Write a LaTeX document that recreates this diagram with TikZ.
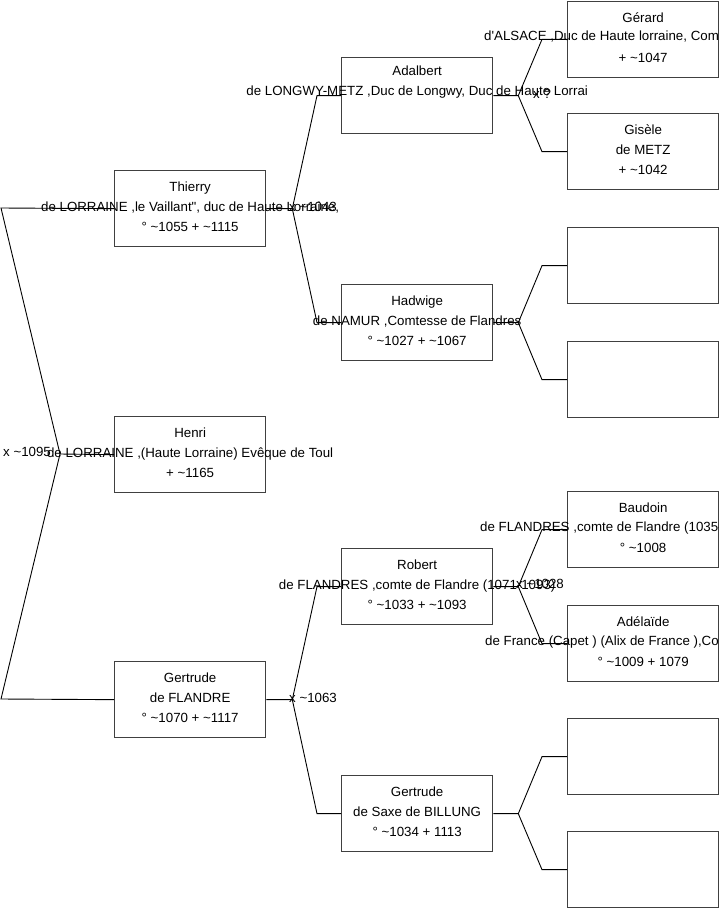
\documentclass[tikz,border=0pt]{standalone}
\usepackage{fontspec}
\setmainfont{Liberation Sans}
\usetikzlibrary{calc}
\newcommand\tld{\textasciitilde}
\begin{document}
\begin{tikzpicture}[x=1pt,y=-1pt,
  font=\fontsize{13.3}{20}\selectfont,
  box/.style={draw=black!75, line width=1.3pt, minimum width=151pt, minimum height=76pt, inner sep=0pt, anchor=north west},
  txt/.style={align=center, inner sep=0pt},
  link/.style={draw=black, line width=0.9pt},
  mlabel/.style={anchor=west, inner sep=0pt}]
\useasboundingbox (0,0) rectangle (719,908);

% boxes level 1
\node[box] (thierry) at (114,170) {};
\node[box] (henri) at (114,416) {};
\node[box] (gertrudef) at (114,661) {};
% level 2
\node[box] (adalbert) at (341,57) {};
\node[box] (hadwige) at (341,284) {};
\node[box] (robert) at (341,548) {};
\node[box] (gertrudes) at (341,775) {};
% level 3
\node[box] (gerard) at (567,0.7) {};
\node[box] (gisele) at (567,113) {};
\node[box] (e1) at (567,227) {};
\node[box] (e2) at (567,341) {};
\node[box] (baudoin) at (567,491) {};
\node[box] (adelaide) at (567,605) {};
\node[box] (e3) at (567,718) {};
\node[box] (e4) at (567,831) {};

% connectors
\coordinate (v0) at (60,454);
\coordinate (a0) at (1,208);
\coordinate (b0) at (1,699);
\draw[link] (henri.west) -- (v0) -- (a0) -- (thierry.west);
\draw[link] (v0) -- (b0) -- (gertrudef.west);

\draw[link] (thierry.east) -- ++(26,0) coordinate (v1) -- ($(adalbert.west)+(-24,0)$) -- (adalbert.west);
\draw[link] (v1) -- ($(hadwige.west)+(-24,0)$) -- (hadwige.west);
\draw[link] (gertrudef.east) -- ++(26,0) coordinate (v2) -- ($(robert.west)+(-24,0)$) -- (robert.west);
\draw[link] (v2) -- ($(gertrudes.west)+(-24,0)$) -- (gertrudes.west);

\draw[link] (adalbert.east) -- ++(25,0) coordinate (v3) -- ($(gerard.west)+(-25,0)$) -- (gerard.west);
\draw[link] (v3) -- ($(gisele.west)+(-25,0)$) -- (gisele.west);
\draw[link] (hadwige.east) -- ++(25,0) coordinate (v4) -- ($(e1.west)+(-25,0)$) -- (e1.west);
\draw[link] (v4) -- ($(e2.west)+(-25,0)$) -- (e2.west);
\draw[link] (robert.east) -- ++(25,0) coordinate (v5) -- ($(baudoin.west)+(-25,0)$) -- (baudoin.west);
\draw[link] (v5) -- ($(adelaide.west)+(-25,0)$) -- (adelaide.west);
\draw[link] (gertrudes.east) -- ++(25,0) coordinate (v6) -- ($(e3.west)+(-25,0)$) -- (e3.west);
\draw[link] (v6) -- ($(e4.west)+(-25,0)$) -- (e4.west);

% texts
\node[txt] (tthierry) at ($(thierry.center)+(0,-1.5)$) {Thierry\\de LORRAINE ,le Vaillant\textquotedbl, duc de Haute Lorraine,\\° \tld1055 + \tld1115};
\node[txt] (thenri) at ($(henri.center)+(0,-1.5)$) {Henri\\de LORRAINE ,(Haute Lorraine) Evêque de Toul\\+ \tld1165};
\node[txt] (tgertrudef) at ($(gertrudef.center)+(0,-1.5)$) {Gertrude\\de FLANDRE\\° \tld1070 + \tld1117};
\node[txt] (tadalbert) at ($(adalbert.center)+(0,-1.5)$) {Adalbert\\de LONGWY-METZ ,Duc de Longwy, Duc de Haute Lorrai\\\strut};
\node[txt] (thadwige) at ($(hadwige.center)+(0,-1.5)$) {Hadwige\\de NAMUR ,Comtesse de Flandres\\° \tld1027 + \tld1067};
\node[txt] (trobert) at ($(robert.center)+(0,-1.5)$) {Robert\\de FLANDRES ,comte de Flandre (1071-1093)\\° \tld1033 + \tld1093};
\node[txt] (tgertrudes) at ($(gertrudes.center)+(0,-1.5)$) {Gertrude\\de Saxe de BILLUNG\\° \tld1034 + 1113};
\node[txt] (tgerard) at ($(gerard.center)+(0,-1.5)$) {Gérard\\\strut\\+ \tld1047};
\node[mlabel] (mgerard) at (484,37) {d\textquotesingle ALSACE ,Duc de Haute lorraine, Com};
\node[txt] (tgisele) at ($(gisele.center)+(0,-1.5)$) {Gisèle\\de METZ\\+ \tld1042};
\node[txt] (tbaudoin) at ($(baudoin.center)+(0,-1.5)$) {Baudoin\\\strut\\° \tld1008};
\node[mlabel] (mbaudoin) at (480,528) {de FLANDRES ,comte de Flandre (1035-};
\node[txt] (tadelaide) at ($(adelaide.center)+(0,-1.5)$) {Adélaïde\\\strut\\° \tld1009 + 1079};
\node[mlabel] (madelaide) at (485,642) {de France (Capet ) (Alix de France ),Co};

% marriage labels
\node[mlabel] (m0) at (3,452) {x \tld1095};
\node[mlabel] (m1) at (289,207) {x \tld1043};
\node[mlabel] (m2) at (289,698) {x \tld1063};
\node[mlabel] (m3) at (533,94) {x ?};
\node[mlabel] (m4) at (516,584) {x \tld1028};
\end{tikzpicture}
\end{document}
